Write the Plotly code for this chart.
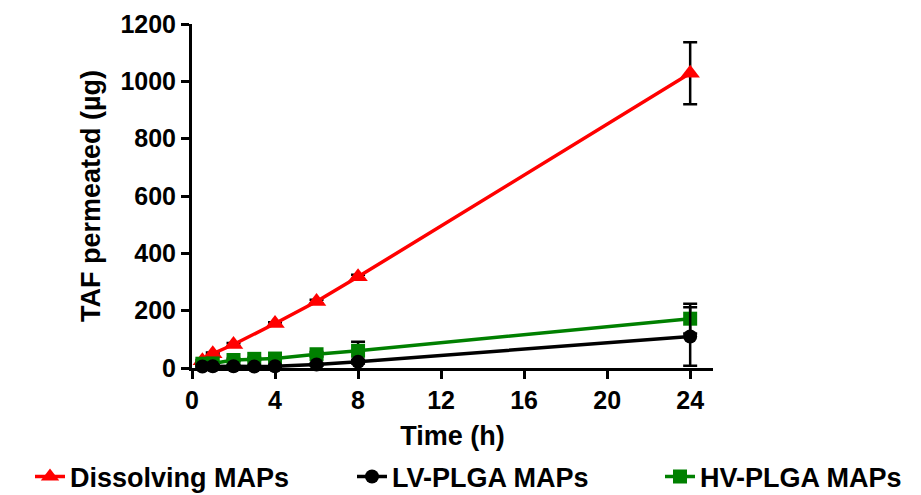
import plotly.graph_objects as go

# Data
t_diss = [0.5, 1, 2, 4, 6, 8, 24]
y_diss = [25, 50, 82, 155, 232, 318, 1028]
e_diss = [3, 4, 5, 5, 6, 7, 108]

t_plga = [0.5, 1, 2, 3, 4, 6, 8, 24]
y_lv = [5, 6, 6, 5, 6, 12, 22, 110]
e_lv = [2, 2, 2, 2, 2, 4, 6, 102]
y_hv = [15, 16, 28, 32, 33, 48, 60, 172]
e_hv = [3, 3, 4, 4, 5, 8, 32, 52]

x_ticks = [0, 4, 8, 12, 16, 20, 24]
y_ticks = [0, 200, 400, 600, 800, 1000, 1200]

FONT = "Liberation Sans, Arial, sans-serif"
W, H = 921, 495

def err(arr):
    return dict(type="data", array=arr, visible=True, color="black",
                thickness=2.5, width=7)

fig = go.Figure()
fig.add_trace(go.Scatter(
    x=t_diss, y=y_diss, error_y=err(e_diss), name="Dissolving MAPs",
    mode="lines+markers", line=dict(color="#ff0000", width=3.5),
    marker=dict(symbol="triangle-up", size=17, color="#ff0000"),
    legend="legend", showlegend=True, cliponaxis=False))
fig.add_trace(go.Scatter(
    x=t_plga, y=y_hv, error_y=err(e_hv), name="HV-PLGA MAPs",
    mode="lines+markers", line=dict(color="#008000", width=3.5),
    marker=dict(symbol="square", size=14, color="#008000"),
    legend="legend3", showlegend=True, cliponaxis=False))
fig.add_trace(go.Scatter(
    x=t_plga, y=y_lv, error_y=err(e_lv), name="LV-PLGA MAPs",
    mode="lines+markers", line=dict(color="black", width=3.5),
    marker=dict(symbol="circle", size=14, color="black"),
    legend="legend2", showlegend=True, cliponaxis=False))

axis_common = dict(
    showline=True, linecolor="black", linewidth=3,
    ticks="outside", tickcolor="black", ticklen=8, tickwidth=3,
    showgrid=False, zeroline=False, automargin=True,
    tickfont=dict(family=FONT, size=25, color="black", weight="bold"),
)

def leg(xpx):
    return dict(orientation="h", xref="container", x=xpx / W, xanchor="left",
                yref="container", y=1 - 477 / H, yanchor="middle",
                font=dict(family=FONT, size=27, color="black", weight="bold"),
                bgcolor="rgba(0,0,0,0)", borderwidth=0, visible=True)

fig.update_layout(
    width=W, height=H, showlegend=True,
    margin=dict(l=192, r=208, t=24, b=127, autoexpand=False),
    paper_bgcolor="white", plot_bgcolor="white",
    xaxis=dict(range=[0, 25.1], tickvals=x_ticks,
               title=dict(text="Time (h)", standoff=14,
                          font=dict(family=FONT, size=27, color="black", weight="bold")),
               **axis_common),
    yaxis=dict(range=[0, 1200], tickvals=y_ticks,
               title=dict(text="TAF permeated (µg)", standoff=12,
                          font=dict(family=FONT, size=27, color="black", weight="bold")),
               **axis_common),
    legend=leg(30),
    legend2=leg(352),
    legend3=leg(660),
)

fig.write_html("out.html", config={"displayModeBar": False},
               post_script="document.body.style.margin='0';")
